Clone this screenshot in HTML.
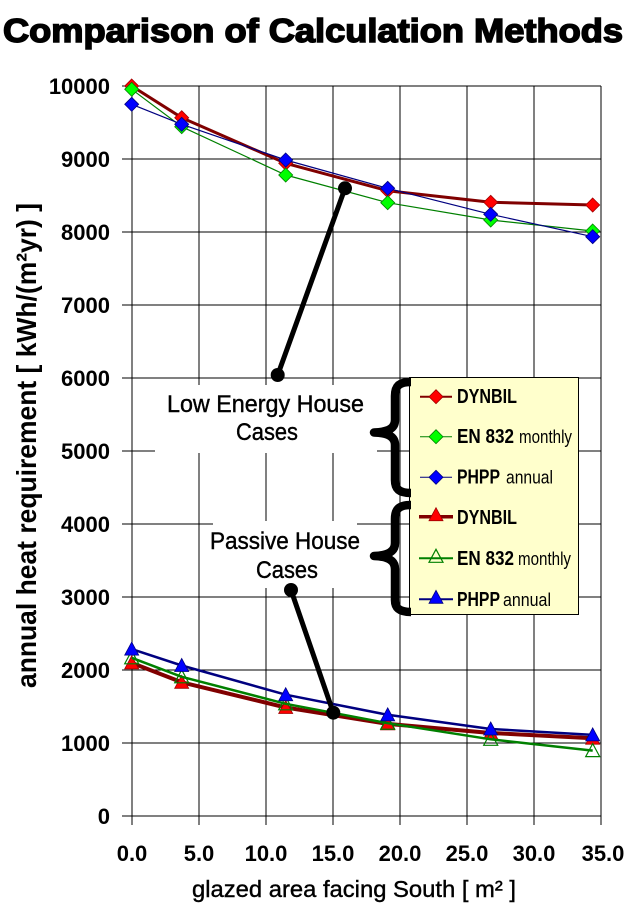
<!DOCTYPE html>
<html>
<head>
<meta charset="utf-8">
<style>
html,body{margin:0;padding:0;background:#fff;}
svg{display:block;}
text{font-family:"Liberation Sans",Arial,sans-serif;}
</style>
</head>
<body>
<svg width="625" height="919" viewBox="0 0 625 919" xmlns="http://www.w3.org/2000/svg">
<defs>
  <path id="dia" d="M0,-7L7,0L0,7L-7,0Z"/>
  <path id="tri" d="M0,-7L7,6L-7,6Z"/>
</defs>
<rect width="625" height="919" fill="#fff"/>

<!-- Title -->
<text x="3" y="42" font-size="33" font-weight="bold" textLength="620" lengthAdjust="spacingAndGlyphs" fill="#000" stroke="#000" stroke-width="1.5">Comparison of Calculation Methods</text>

<!-- Grid -->
<g stroke="#000" stroke-width="1" shape-rendering="crispEdges">
  <line x1="122" y1="86" x2="601" y2="86"/>
  <line x1="122" y1="159" x2="601" y2="159"/>
  <line x1="122" y1="232" x2="601" y2="232"/>
  <line x1="122" y1="305" x2="601" y2="305"/>
  <line x1="122" y1="378" x2="601" y2="378"/>
  <line x1="122" y1="451" x2="601" y2="451"/>
  <line x1="122" y1="524" x2="601" y2="524"/>
  <line x1="122" y1="597" x2="601" y2="597"/>
  <line x1="122" y1="670" x2="601" y2="670"/>
  <line x1="122" y1="743" x2="601" y2="743"/>
  <line x1="122" y1="816" x2="601" y2="816"/>
  <line x1="132" y1="86" x2="132" y2="825"/>
  <line x1="199" y1="86" x2="199" y2="825"/>
  <line x1="266" y1="86" x2="266" y2="825"/>
  <line x1="333" y1="86" x2="333" y2="825"/>
  <line x1="400" y1="86" x2="400" y2="825"/>
  <line x1="467" y1="86" x2="467" y2="825"/>
  <line x1="534" y1="86" x2="534" y2="825"/>
  <line x1="601" y1="86" x2="601" y2="825"/>
</g>

<!-- White boxes behind annotations -->
<rect x="155" y="385" width="222" height="68" fill="#fff"/>
<rect x="213" y="521" width="144" height="67" fill="#fff"/>

<!-- Y tick labels -->
<g font-size="22" font-weight="bold" text-anchor="end" fill="#000">
  <text x="110" y="94">10000</text>
  <text x="110" y="167">9000</text>
  <text x="110" y="240">8000</text>
  <text x="110" y="313">7000</text>
  <text x="110" y="386">6000</text>
  <text x="110" y="459">5000</text>
  <text x="110" y="532">4000</text>
  <text x="110" y="605">3000</text>
  <text x="110" y="678">2000</text>
  <text x="110" y="751">1000</text>
  <text x="110" y="824">0</text>
</g>

<!-- X tick labels -->
<g font-size="22" font-weight="bold" text-anchor="middle" fill="#000">
  <text x="132" y="861">0.0</text>
  <text x="199" y="861">5.0</text>
  <text x="266" y="861">10.0</text>
  <text x="333" y="861">15.0</text>
  <text x="400" y="861">20.0</text>
  <text x="467" y="861">25.0</text>
  <text x="534" y="861">30.0</text>
  <text x="603" y="861">35.0</text>
</g>

<!-- Axis titles -->
<text x="192" y="897" font-size="23" textLength="324" lengthAdjust="spacingAndGlyphs" fill="#000" stroke="#000" stroke-width="0.4">glazed area facing South   [ m² ]</text>
<text transform="translate(36,688) rotate(-90)" x="0" y="0" font-size="28" font-weight="bold" textLength="485" lengthAdjust="spacingAndGlyphs" fill="#000">annual heat requirement   [ kWh/(m²yr) ]</text>

<!-- Low energy series -->
<polyline points="131.7,86 181.7,117.7 285.7,163.3 387.7,190.7 490.7,202.3 592.7,205" fill="none" stroke="#800000" stroke-width="3" stroke-linejoin="round"/>
<g fill="#ff0000" stroke="#a00000" stroke-width="0.8">
  <use href="#dia" x="131.7" y="86"/><use href="#dia" x="181.7" y="117.7"/><use href="#dia" x="285.7" y="163.3"/>
  <use href="#dia" x="387.7" y="190.7"/><use href="#dia" x="490.7" y="202.3"/><use href="#dia" x="592.7" y="205"/>
</g>
<polyline points="131.7,89.3 181.7,126.7 285.7,175 387.7,202.7 490.7,220 592.7,231" fill="none" stroke="#008000" stroke-width="1.2"/>
<g fill="#00ff00" stroke="#008000" stroke-width="0.8">
  <use href="#dia" x="131.7" y="89.3"/><use href="#dia" x="181.7" y="126.7"/><use href="#dia" x="285.7" y="175"/>
  <use href="#dia" x="387.7" y="202.7"/><use href="#dia" x="490.7" y="220"/><use href="#dia" x="592.7" y="231"/>
</g>
<polyline points="131.7,104.3 181.7,124.3 285.7,160 387.7,188.3 490.7,214.3 592.7,236.7" fill="none" stroke="#000080" stroke-width="1.2"/>
<g fill="#0000ff" stroke="#000080" stroke-width="0.8">
  <use href="#dia" x="131.7" y="104.3"/><use href="#dia" x="181.7" y="124.3"/><use href="#dia" x="285.7" y="160"/>
  <use href="#dia" x="387.7" y="188.3"/><use href="#dia" x="490.7" y="214.3"/><use href="#dia" x="592.7" y="236.7"/>
</g>

<!-- Passive series -->
<polyline points="131.7,662.9 181.7,682.3 285.7,707.5 387.7,723.9 490.7,733 592.7,738.2" fill="none" stroke="#800000" stroke-width="4" stroke-linejoin="round"/>
<g fill="#ff0000" stroke="#a00000" stroke-width="0.8">
  <use href="#tri" x="131.7" y="662.9"/><use href="#tri" x="181.7" y="682.3"/><use href="#tri" x="285.7" y="707.5"/>
  <use href="#tri" x="387.7" y="723.9"/><use href="#tri" x="490.7" y="733"/><use href="#tri" x="592.7" y="738.2"/>
</g>
<polyline points="131.7,657.8 181.7,676.8 285.7,703.8 387.7,723.2 490.7,739.3 592.7,750.6" fill="none" stroke="#008000" stroke-width="2.5" stroke-linejoin="round"/>
<g fill="none" stroke="#008000" stroke-width="1.2">
  <use href="#tri" x="131.7" y="657.8"/><use href="#tri" x="181.7" y="676.8"/><use href="#tri" x="285.7" y="703.8"/>
  <use href="#tri" x="387.7" y="723.2"/><use href="#tri" x="490.7" y="739.3"/><use href="#tri" x="592.7" y="750.6"/>
</g>
<polyline points="131.7,649.1 181.7,665.5 285.7,694.7 387.7,714.8 490.7,729 592.7,734.9" fill="none" stroke="#000080" stroke-width="2.5" stroke-linejoin="round"/>
<g fill="#0000ff" stroke="#000080" stroke-width="0.8">
  <use href="#tri" x="131.7" y="649.1"/><use href="#tri" x="181.7" y="665.5"/><use href="#tri" x="285.7" y="694.7"/>
  <use href="#tri" x="387.7" y="714.8"/><use href="#tri" x="490.7" y="729"/><use href="#tri" x="592.7" y="734.9"/>
</g>

<!-- Callouts -->
<g stroke="#000" stroke-width="5" stroke-linecap="round">
  <line x1="277.7" y1="375" x2="345" y2="188.3"/>
  <line x1="291" y1="590" x2="333.3" y2="712.7"/>
</g>
<g fill="#000">
  <circle cx="277.7" cy="375" r="7"/>
  <circle cx="345" cy="188.3" r="7"/>
  <circle cx="291" cy="590" r="7"/>
  <circle cx="333.3" cy="712.7" r="7"/>
</g>

<!-- Annotation text -->
<g font-size="24" fill="#000" stroke="#000" stroke-width="0.4">
  <text x="167" y="412" textLength="197" lengthAdjust="spacingAndGlyphs">Low Energy House</text>
  <text x="236" y="440" textLength="62" lengthAdjust="spacingAndGlyphs">Cases</text>
  <text x="210" y="549" textLength="150" lengthAdjust="spacingAndGlyphs">Passive House</text>
  <text x="256" y="578" textLength="62" lengthAdjust="spacingAndGlyphs">Cases</text>
</g>

<!-- Legend -->
<rect x="409.5" y="377.5" width="169" height="237" fill="#ffffcc" stroke="#000" stroke-width="1"/>
<g>
  <line x1="420" y1="396.7" x2="452" y2="396.7" stroke="#800000" stroke-width="2"/>
  <use href="#dia" x="436" y="396.7" fill="#ff0000" stroke="#a00000" stroke-width="0.8"/>
  <line x1="420" y1="436.7" x2="452" y2="436.7" stroke="#008000" stroke-width="1"/>
  <use href="#dia" x="436" y="436.7" fill="#00ff00" stroke="#008000" stroke-width="0.8"/>
  <line x1="420" y1="477.3" x2="452" y2="477.3" stroke="#000080" stroke-width="1"/>
  <use href="#dia" x="436" y="477.3" fill="#0000ff" stroke="#000080" stroke-width="0.8"/>
  <line x1="419" y1="516.7" x2="453" y2="516.7" stroke="#800000" stroke-width="3.5"/>
  <use href="#tri" x="436" y="514.7" fill="#ff0000" stroke="#a00000" stroke-width="0.8"/>
  <line x1="419" y1="558.3" x2="453" y2="558.3" stroke="#008000" stroke-width="2"/>
  <use href="#tri" x="436" y="556.3" fill="none" stroke="#008000" stroke-width="1.2"/>
  <line x1="419" y1="599.3" x2="453" y2="599.3" stroke="#000080" stroke-width="2"/>
  <use href="#tri" x="436" y="597.3" fill="#0000ff" stroke="#000080" stroke-width="0.8"/>
</g>
<g fill="#000">
  <text x="457" y="403" font-size="20" font-weight="bold" textLength="60" lengthAdjust="spacingAndGlyphs">DYNBIL</text>
  <text x="457" y="443" font-size="20" font-weight="bold" textLength="57" lengthAdjust="spacingAndGlyphs">EN 832</text>
  <text x="519" y="443" font-size="18" textLength="53" lengthAdjust="spacingAndGlyphs">monthly</text>
  <text x="457" y="483.5" font-size="20" font-weight="bold" textLength="43" lengthAdjust="spacingAndGlyphs">PHPP</text>
  <text x="506" y="483.5" font-size="18" textLength="47" lengthAdjust="spacingAndGlyphs">annual</text>
  <text x="457" y="524" font-size="20" font-weight="bold" textLength="60" lengthAdjust="spacingAndGlyphs">DYNBIL</text>
  <text x="457" y="565" font-size="20" font-weight="bold" textLength="57" lengthAdjust="spacingAndGlyphs">EN 832</text>
  <text x="518" y="565" font-size="18" textLength="53" lengthAdjust="spacingAndGlyphs">monthly</text>
  <text x="457" y="606" font-size="20" font-weight="bold" textLength="43" lengthAdjust="spacingAndGlyphs">PHPP</text>
  <text x="503" y="606" font-size="18" textLength="48" lengthAdjust="spacingAndGlyphs">annual</text>
</g>

<!-- Braces -->
<g fill="none" stroke="#000" stroke-width="8.5" stroke-linejoin="round">
  <path d="M411,382 C399,382 395,386 395,396 L395,420 C395,428 389,432 374,432.5 C389,433 395,437 395,445 L395,480 C395,489 399,493 411,493"/>
  <path d="M411,505 C399,505 395,509 395,519 L395,543 C395,551 389,555.5 374,556 C389,556.5 395,561 395,569 L395,600 C395,608 399,612 411,612"/>
</g>
</svg>
</body>
</html>
